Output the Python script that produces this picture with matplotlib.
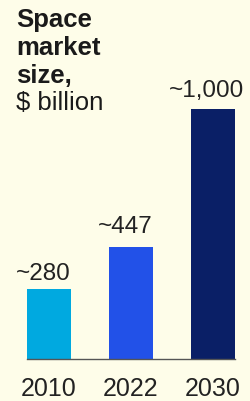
import matplotlib.pyplot as plt

# data
years = ['2010', '2022', '2030']
market_size = [280, 447, 1000]
value_labels = ['~280', '~447', '~1,000']
bar_colors = ['#00A9E0', '#2251E8', '#0A1F66']

bg = '#FEFDE9'
plt.rcParams['font.family'] = ['Liberation Sans', 'DejaVu Sans']

fig = plt.figure(figsize=(2.5, 4.01), dpi=100, facecolor=bg)
ax = fig.add_axes([27 / 250, 42.3 / 401, 208 / 250, 275 / 401])
ax.set_facecolor(bg)

x = range(len(years))
ax.bar(x, market_size, width=0.54, color=bar_colors)

# gap between bar top and label baseline (points), label a bit left of centre
label_gap = [6, 10, 8.5]
for xi, v, lab, g in zip(x, market_size, value_labels, label_gap):
    ax.annotate(lab, (xi, v), xytext=(-4.3, g), textcoords='offset points',
                ha='center', va='baseline', fontsize=17.5, color='#222222')

ax.set_xlim(-0.27, 2.27)
ax.set_ylim(0, 1100)
ax.set_xticks(list(x))
ax.set_xticklabels(years, fontsize=18, color='#222222')
ax.tick_params(axis='x', length=0, pad=13)
ax.set_yticks([])
for s in ['top', 'right', 'left']:
    ax.spines[s].set_visible(False)
ax.spines['bottom'].set_color('#555555')
ax.spines['bottom'].set_linewidth(1)

# title block
title_lines = [('Space', 'bold', 27), ('market', 'bold', 55),
               ('size,', 'bold', 83), ('$ billion', 'normal', 110)]
for txt, w, base in title_lines:
    fig.text(16 / 250, 1 - base / 401, txt, fontsize=18.5, fontweight=w,
             color='#1a1a1a', va='baseline', ha='left')

fig.savefig('out.png', dpi=100, facecolor=bg)
